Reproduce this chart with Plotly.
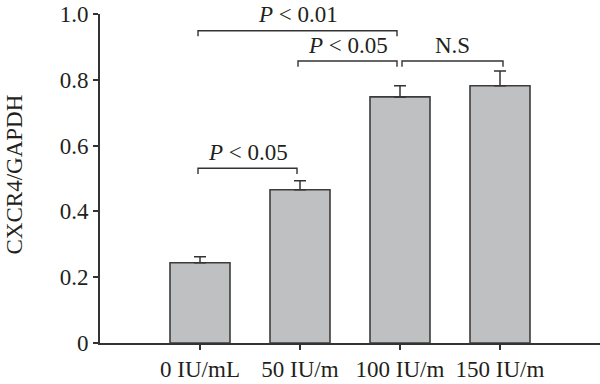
import plotly.graph_objects as go

categories = ["0 IU/mL", "50 IU/m", "100 IU/m", "150 IU/m"]
values = [0.244, 0.466, 0.748, 0.782]
errors = [0.018, 0.027, 0.034, 0.045]
zeros = [0, 0, 0, 0]
ytick_vals = [0, 0.2, 0.4, 0.6, 0.8, 1.0]
ytick_text = ["0", "0.2", "0.4", "0.6", "0.8", "1.0"]
y_title = "CXCR4/GAPDH"

# significance comparisons: (left index, right index, label)
comparisons = [
    (0, 2, "<i>P</i> < 0.01"),
    (1, 2, "<i>P</i> < 0.05"),
    (2, 3, "N.S"),
    (0, 1, "<i>P</i> < 0.05"),
]

FONT = "Liberation Serif"
DARK = "#333333"
TXT = "#231f20"

fig = go.Figure()
fig.add_trace(go.Bar(
    x=categories, y=values, width=0.6,
    marker=dict(color="#bfc0c2", line=dict(color="#3c3c3c", width=1.6)),
    error_y=dict(type="data", symmetric=False, array=errors, arrayminus=zeros,
                 color=DARK, thickness=1.5, width=6),
    showlegend=False,
))

# bracket layout (style, not data)
bracket_y = {0: 0.949, 1: 0.857, 2: 0.857, 3: 0.531}
tick_drop = 0.017
shapes = []
annotations = []
for k, (a, b, lab) in enumerate(comparisons):
    y = bracket_y[k]
    x0 = a - 0.02
    x1 = b - 0.03
    if a == 2:
        x0 = a + 0.02
        x1 = b + 0.03
    shapes.append(dict(type="path", xref="x", yref="y",
                       path=f"M {x0},{y - tick_drop} L {x0},{y} L {x1},{y} L {x1},{y - tick_drop}",
                       line=dict(color=DARK, width=1.4)))
    annotations.append(dict(x=(x0 + x1) / 2, y=y, xref="x", yref="y", text=lab,
                            showarrow=False, yanchor="middle", yshift=16,
                            font=dict(family=FONT, size=23, color=TXT)))

annotations.append(dict(x=0, y=0.5, xref="paper", yref="paper", text=y_title,
                        textangle=-90, showarrow=False, xanchor="center", yanchor="middle",
                        xshift=-86, yshift=4, font=dict(family=FONT, size=23, color=TXT)))

fig.update_layout(
    width=600, height=384,
    margin=dict(l=100, r=0, t=14, b=41),
    paper_bgcolor="white", plot_bgcolor="white",
    bargap=0.4,
    shapes=shapes, annotations=annotations,
    xaxis=dict(type="category", range=[-1, 4], showline=True, linecolor=DARK, linewidth=1.6,
               ticks="outside", ticklen=5, tickwidth=1.5, tickcolor=DARK,
               tickfont=dict(family=FONT, size=23, color=TXT),
               showgrid=False, zeroline=False, fixedrange=True),
    yaxis=dict(range=[0, 1.0], showline=True, linecolor=DARK, linewidth=1.6,
               ticks="outside", ticklen=5, tickwidth=1.5, tickcolor=DARK,
               tickvals=ytick_vals, ticktext=ytick_text,
               tickfont=dict(family=FONT, size=23, color=TXT),
               showgrid=False, zeroline=False, fixedrange=True),
)
fig.update_traces(cliponaxis=False)

fig.write_html("out.html", config={"displayModeBar": False},
               post_script="document.body.style.margin='0';document.body.style.overflow='hidden';")
